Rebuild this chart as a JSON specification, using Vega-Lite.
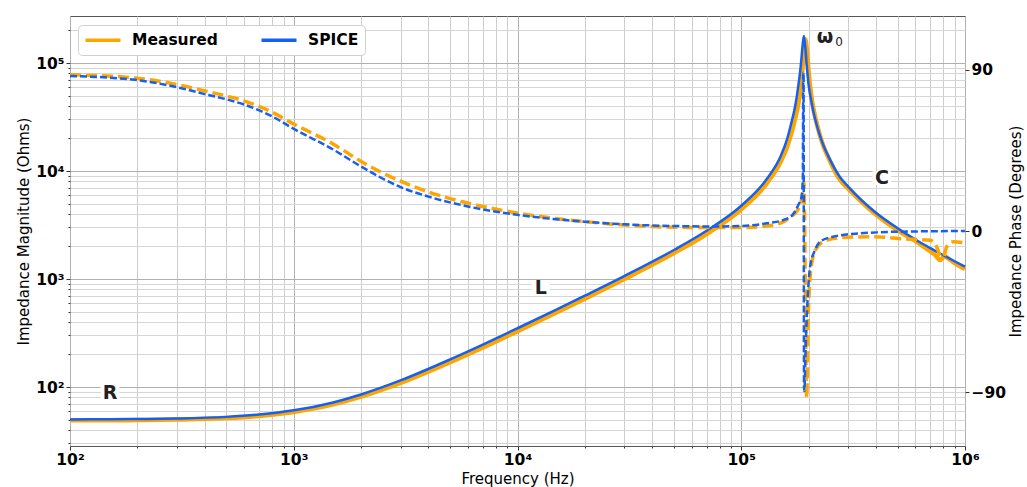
{
  "$schema": "https://vega.github.io/schema/vega-lite/v6.json",
  "width": 895,
  "height": 430,
  "autosize": {"type": "none"},
  "padding": {"left": 70, "top": 16, "right": 62, "bottom": 41},
  "background": "white",
  "config": {
    "font": "DejaVu Sans",
    "view": {"stroke": "#555555", "strokeWidth": 1},
    "axis": {
      "labelFont": "DejaVu Sans",
      "titleFont": "DejaVu Sans",
      "labelFontWeight": "bold",
      "labelFontSize": 14,
      "titleFontWeight": "normal",
      "titleFontSize": 15,
      "labelColor": "black",
      "titleColor": "black",
      "domain": false,
      "labelFlush": false,
      "tickColor": "#333333"
    }
  },
  "datasets": {
    "mag": [
      {"f": 100, "mag": 50.1, "series": "SPICE"},
      {"f": 150, "mag": 50.3, "series": "SPICE"},
      {"f": 200, "mag": 50.5, "series": "SPICE"},
      {"f": 300, "mag": 51.1, "series": "SPICE"},
      {"f": 500, "mag": 52.9, "series": "SPICE"},
      {"f": 700, "mag": 55.6, "series": "SPICE"},
      {"f": 1000, "mag": 60.8, "series": "SPICE"},
      {"f": 1500, "mag": 72.0, "series": "SPICE"},
      {"f": 2000, "mag": 85.3, "series": "SPICE"},
      {"f": 3000, "mag": 115, "series": "SPICE"},
      {"f": 5000, "mag": 180, "series": "SPICE"},
      {"f": 7000, "mag": 247, "series": "SPICE"},
      {"f": 10000, "mag": 350, "series": "SPICE"},
      {"f": 15000, "mag": 524, "series": "SPICE"},
      {"f": 20000, "mag": 701, "series": "SPICE"},
      {"f": 30000, "mag": 1064, "series": "SPICE"},
      {"f": 50000, "mag": 1856, "series": "SPICE"},
      {"f": 70000, "mag": 2797, "series": "SPICE"},
      {"f": 100000, "mag": 4772, "series": "SPICE"},
      {"f": 130000, "mag": 8417, "series": "SPICE"},
      {"f": 150000, "mag": 13700, "series": "SPICE"},
      {"f": 160000, "mag": 19500, "series": "SPICE"},
      {"f": 166000, "mag": 26000, "series": "SPICE"},
      {"f": 175000, "mag": 42000, "series": "SPICE"},
      {"f": 180000, "mag": 62000, "series": "SPICE"},
      {"f": 185000, "mag": 100000, "series": "SPICE"},
      {"f": 188000, "mag": 145000, "series": "SPICE"},
      {"f": 190500, "mag": 178000, "series": "SPICE"},
      {"f": 193000, "mag": 145000, "series": "SPICE"},
      {"f": 196000, "mag": 97000, "series": "SPICE"},
      {"f": 200000, "mag": 63000, "series": "SPICE"},
      {"f": 205000, "mag": 46000, "series": "SPICE"},
      {"f": 210000, "mag": 35500, "series": "SPICE"},
      {"f": 220000, "mag": 24500, "series": "SPICE"},
      {"f": 230000, "mag": 18500, "series": "SPICE"},
      {"f": 250000, "mag": 12600, "series": "SPICE"},
      {"f": 276000, "mag": 8800, "series": "SPICE"},
      {"f": 300000, "mag": 7200, "series": "SPICE"},
      {"f": 400000, "mag": 4100, "series": "SPICE"},
      {"f": 500000, "mag": 2950, "series": "SPICE"},
      {"f": 600000, "mag": 2320, "series": "SPICE"},
      {"f": 700000, "mag": 1933, "series": "SPICE"},
      {"f": 800000, "mag": 1660, "series": "SPICE"},
      {"f": 1000000, "mag": 1300, "series": "SPICE"},
      {"f": 100, "mag": 49.1, "series": "Measured"},
      {"f": 150, "mag": 49.2, "series": "Measured"},
      {"f": 200, "mag": 49.4, "series": "Measured"},
      {"f": 300, "mag": 50.0, "series": "Measured"},
      {"f": 500, "mag": 51.6, "series": "Measured"},
      {"f": 700, "mag": 54.0, "series": "Measured"},
      {"f": 1000, "mag": 58.8, "series": "Measured"},
      {"f": 1500, "mag": 69.0, "series": "Measured"},
      {"f": 2000, "mag": 81.3, "series": "Measured"},
      {"f": 3000, "mag": 108.9, "series": "Measured"},
      {"f": 5000, "mag": 169.3, "series": "Measured"},
      {"f": 7000, "mag": 232, "series": "Measured"},
      {"f": 10000, "mag": 329, "series": "Measured"},
      {"f": 15000, "mag": 492, "series": "Measured"},
      {"f": 20000, "mag": 657, "series": "Measured"},
      {"f": 30000, "mag": 998, "series": "Measured"},
      {"f": 50000, "mag": 1737, "series": "Measured"},
      {"f": 70000, "mag": 2611, "series": "Measured"},
      {"f": 100000, "mag": 4422, "series": "Measured"},
      {"f": 130000, "mag": 7676, "series": "Measured"},
      {"f": 150000, "mag": 12170, "series": "Measured"},
      {"f": 160000, "mag": 16500, "series": "Measured"},
      {"f": 166000, "mag": 21000, "series": "Measured"},
      {"f": 175000, "mag": 32000, "series": "Measured"},
      {"f": 180000, "mag": 42000, "series": "Measured"},
      {"f": 185000, "mag": 64000, "series": "Measured"},
      {"f": 190000, "mag": 118000, "series": "Measured"},
      {"f": 193600, "mag": 165000, "series": "Measured"},
      {"f": 197000, "mag": 122000, "series": "Measured"},
      {"f": 200000, "mag": 83000, "series": "Measured"},
      {"f": 205000, "mag": 52000, "series": "Measured"},
      {"f": 210000, "mag": 38000, "series": "Measured"},
      {"f": 220000, "mag": 25000, "series": "Measured"},
      {"f": 230000, "mag": 18300, "series": "Measured"},
      {"f": 250000, "mag": 12200, "series": "Measured"},
      {"f": 276000, "mag": 8300, "series": "Measured"},
      {"f": 300000, "mag": 6900, "series": "Measured"},
      {"f": 400000, "mag": 3950, "series": "Measured"},
      {"f": 500000, "mag": 2820, "series": "Measured"},
      {"f": 600000, "mag": 2250, "series": "Measured"},
      {"f": 700000, "mag": 1800, "series": "Measured"},
      {"f": 730000, "mag": 1700, "series": "Measured"},
      {"f": 773000, "mag": 1500, "series": "Measured"},
      {"f": 810000, "mag": 1620, "series": "Measured"},
      {"f": 850000, "mag": 1530, "series": "Measured"},
      {"f": 900000, "mag": 1400, "series": "Measured"},
      {"f": 1000000, "mag": 1235, "series": "Measured"}
    ],
    "phase": [
      {"f": 100, "phase": 86.5, "series": "SPICE"},
      {"f": 200, "phase": 84.2, "series": "SPICE"},
      {"f": 300, "phase": 80.3, "series": "SPICE"},
      {"f": 400, "phase": 76.4, "series": "SPICE"},
      {"f": 500, "phase": 73.5, "series": "SPICE"},
      {"f": 600, "phase": 70.6, "series": "SPICE"},
      {"f": 800, "phase": 64.0, "series": "SPICE"},
      {"f": 1000, "phase": 57.0, "series": "SPICE"},
      {"f": 1500, "phase": 45.5, "series": "SPICE"},
      {"f": 2000, "phase": 36.0, "series": "SPICE"},
      {"f": 3000, "phase": 24.5, "series": "SPICE"},
      {"f": 4000, "phase": 19.2, "series": "SPICE"},
      {"f": 6000, "phase": 13.7, "series": "SPICE"},
      {"f": 10000, "phase": 9.0, "series": "SPICE"},
      {"f": 20000, "phase": 5.2, "series": "SPICE"},
      {"f": 30000, "phase": 3.7, "series": "SPICE"},
      {"f": 50000, "phase": 2.8, "series": "SPICE"},
      {"f": 75000, "phase": 2.5, "series": "SPICE"},
      {"f": 100000, "phase": 2.8, "series": "SPICE"},
      {"f": 130000, "phase": 4.3, "series": "SPICE"},
      {"f": 155000, "phase": 6.2, "series": "SPICE"},
      {"f": 168000, "phase": 8.5, "series": "SPICE"},
      {"f": 180000, "phase": 14.6, "series": "SPICE"},
      {"f": 186000, "phase": 19.3, "series": "SPICE"},
      {"f": 188500, "phase": 30.0, "series": "SPICE"},
      {"f": 189300, "phase": 88.5, "series": "SPICE"},
      {"f": 189900, "phase": 88.5, "series": "SPICE"},
      {"f": 190800, "phase": -89.3, "series": "SPICE"},
      {"f": 191500, "phase": -89.3, "series": "SPICE"},
      {"f": 193500, "phase": -70.0, "series": "SPICE"},
      {"f": 196000, "phase": -50.0, "series": "SPICE"},
      {"f": 203000, "phase": -20.0, "series": "SPICE"},
      {"f": 213600, "phase": -10.7, "series": "SPICE"},
      {"f": 225000, "phase": -6.0, "series": "SPICE"},
      {"f": 257000, "phase": -3.2, "series": "SPICE"},
      {"f": 340000, "phase": -1.3, "series": "SPICE"},
      {"f": 417000, "phase": -0.7, "series": "SPICE"},
      {"f": 630000, "phase": -0.2, "series": "SPICE"},
      {"f": 1000000, "phase": 0.0, "series": "SPICE"},
      {"f": 100, "phase": 87.2, "series": "Measured"},
      {"f": 200, "phase": 85.3, "series": "Measured"},
      {"f": 300, "phase": 81.8, "series": "Measured"},
      {"f": 400, "phase": 78.2, "series": "Measured"},
      {"f": 500, "phase": 75.4, "series": "Measured"},
      {"f": 600, "phase": 72.6, "series": "Measured"},
      {"f": 800, "phase": 66.3, "series": "Measured"},
      {"f": 1000, "phase": 59.7, "series": "Measured"},
      {"f": 1500, "phase": 48.6, "series": "Measured"},
      {"f": 2000, "phase": 38.8, "series": "Measured"},
      {"f": 3000, "phase": 27.8, "series": "Measured"},
      {"f": 4000, "phase": 21.8, "series": "Measured"},
      {"f": 6000, "phase": 15.6, "series": "Measured"},
      {"f": 9100, "phase": 10.9, "series": "Measured"},
      {"f": 20000, "phase": 5.2, "series": "Measured"},
      {"f": 30000, "phase": 3.4, "series": "Measured"},
      {"f": 50000, "phase": 2.1, "series": "Measured"},
      {"f": 100000, "phase": 1.9, "series": "Measured"},
      {"f": 130000, "phase": 2.8, "series": "Measured"},
      {"f": 155000, "phase": 5.2, "series": "Measured"},
      {"f": 166000, "phase": 8.0, "series": "Measured"},
      {"f": 177000, "phase": 10.9, "series": "Measured"},
      {"f": 186000, "phase": 17.4, "series": "Measured"},
      {"f": 189500, "phase": 24.0, "series": "Measured"},
      {"f": 190500, "phase": 27.0, "series": "Measured"},
      {"f": 196100, "phase": -93.2, "series": "Measured"},
      {"f": 199400, "phase": -46.0, "series": "Measured"},
      {"f": 206500, "phase": -18.0, "series": "Measured"},
      {"f": 217000, "phase": -9.6, "series": "Measured"},
      {"f": 241000, "phase": -5.1, "series": "Measured"},
      {"f": 296000, "phase": -3.5, "series": "Measured"},
      {"f": 388000, "phase": -3.2, "series": "Measured"},
      {"f": 548000, "phase": -4.5, "series": "Measured"},
      {"f": 698000, "phase": -5.1, "series": "Measured"},
      {"f": 747000, "phase": -8.8, "series": "Measured"},
      {"f": 773000, "phase": -13.5, "series": "Measured"},
      {"f": 800000, "phase": -14.5, "series": "Measured"},
      {"f": 828000, "phase": -8.8, "series": "Measured"},
      {"f": 887000, "phase": -6.0, "series": "Measured"},
      {"f": 1000000, "phase": -6.6, "series": "Measured"}
    ],
    "ann": [
      {"f": 151, "mag": 88, "label": "R"},
      {"f": 12700, "mag": 826, "label": "L"},
      {"f": 425000, "mag": 8610, "label": "C"},
      {"f": 246600, "mag": 170000, "label": "ω₀"}
    ]
  },
  "encoding": {
    "x": {
      "field": "f",
      "type": "quantitative",
      "scale": {"type": "log", "domain": [100, 1000000]},
      "axis": {
        "title": "Frequency (Hz)",
        "titlePadding": 4,
        "values": [100, 200, 300, 400, 500, 600, 700, 800, 900, 1000, 2000, 3000, 4000, 5000, 6000, 7000, 8000, 9000, 10000, 20000, 30000, 40000, 50000, 60000, 70000, 80000, 90000, 100000, 200000, 300000, 400000, 500000, 600000, 700000, 800000, 900000, 1000000],
        "labelExpr": "abs(log(datum.value)/LN10 - round(log(datum.value)/LN10)) < 0.001 ? '10' + ['⁰','¹','²','³','⁴','⁵','⁶'][round(log(datum.value)/LN10)] : ''",
        "labelFontSize": 15.5,
        "labelPadding": 2,
        "grid": true,
        "gridColor": {"condition": {"test": "abs(log(datum.value)/LN10 - round(log(datum.value)/LN10)) < 0.001", "value": "#b0b0b0"}, "value": "#cccccc"},
        "gridWidth": 1,
        "tickSize": {"condition": {"test": "abs(log(datum.value)/LN10 - round(log(datum.value)/LN10)) < 0.001", "value": 4}, "value": 2}
      }
    }
  },
  "layer": [
    {
      "encoding": {
        "y": {
          "field": "mag",
          "type": "quantitative",
          "scale": {"type": "log", "domain": [28.43, 272400]},
          "axis": {
            "title": "Impedance Magnitude (Ohms)",
            "titlePadding": 4,
            "values": [30, 40, 50, 60, 70, 80, 90, 100, 200, 300, 400, 500, 600, 700, 800, 900, 1000, 2000, 3000, 4000, 5000, 6000, 7000, 8000, 9000, 10000, 20000, 30000, 40000, 50000, 60000, 70000, 80000, 90000, 100000, 200000],
            "labelExpr": "abs(log(datum.value)/LN10 - round(log(datum.value)/LN10)) < 0.001 ? '10' + ['⁰','¹','²','³','⁴','⁵','⁶'][round(log(datum.value)/LN10)] : ''",
            "labelFontSize": 15.5,
            "labelPadding": 2,
            "grid": true,
            "gridColor": {"condition": {"test": "abs(log(datum.value)/LN10 - round(log(datum.value)/LN10)) < 0.001", "value": "#b0b0b0"}, "value": "#d6d6d6"},
            "gridWidth": 1,
            "tickSize": {"condition": {"test": "abs(log(datum.value)/LN10 - round(log(datum.value)/LN10)) < 0.001", "value": 4}, "value": 2}
          }
        }
      },
      "layer": [
        {
          "data": {"name": "ann"},
          "mark": {"type": "point", "shape": "M-1.35,-1L1.35,-1L1.35,1L-1.35,1Z", "filled": true, "color": "white", "opacity": 1, "size": 190},
          "encoding": {}
        },
        {
          "data": {"name": "ann"},
          "transform": [{"filter": "datum.label != 'ω₀'"}],
          "mark": {"type": "text", "fontSize": 19, "fontWeight": "bold", "color": "#222222", "font": "DejaVu Sans"},
          "encoding": {"text": {"field": "label"}}
        },
        {
          "data": {"name": "ann"},
          "transform": [{"filter": "datum.label == 'ω₀'"}],
          "mark": {"type": "text", "fontSize": 19, "fontWeight": "bold", "color": "#222222", "font": "DejaVu Sans", "dx": -4, "dy": -1},
          "encoding": {"text": {"value": "ω"}}
        },
        {
          "data": {"name": "ann"},
          "transform": [{"filter": "datum.label == 'ω₀'"}],
          "mark": {"type": "text", "fontSize": 12, "fontWeight": "normal", "color": "#222222", "font": "DejaVu Sans", "dx": 10, "dy": 4},
          "encoding": {"text": {"value": "0"}}
        },
        {
          "data": {"name": "mag"},
          "transform": [{"filter": "datum.series == 'Measured'"}],
          "mark": {"type": "line", "strokeWidth": 4.5, "interpolate": "monotone"},
          "encoding": {
            "color": {
              "field": "series",
              "type": "nominal",
              "scale": {"domain": ["Measured", "SPICE"], "range": ["#FFA500", "#1560F0"]},
              "legend": {
                "title": null,
                "orient": "none",
                "legendX": 8,
                "legendY": 9,
                "direction": "horizontal",
                "symbolType": "M-2.5,0L2.5,0",
                "symbolSize": 196,
                "symbolOffset": 10,
                "symbolStrokeWidth": 3.5,
                "labelFontSize": 15.5,
                "labelFontWeight": "bold",
                "labelFont": "DejaVu Sans",
                "labelColor": "black",
                "labelOffset": 20,
                "columnPadding": 36,
                "padding": 6,
                "fillColor": "white",
                "strokeColor": "#d0d0d0",
                "cornerRadius": 4
              }
            }
          }
        },
        {
          "data": {"name": "mag"},
          "transform": [{"filter": "datum.series == 'SPICE'"}],
          "mark": {"type": "line", "strokeWidth": 2.5, "interpolate": "monotone"},
          "encoding": {"color": {"field": "series", "type": "nominal"}}
        }
      ]
    },
    {
      "encoding": {
        "y": {
          "field": "phase",
          "type": "quantitative",
          "scale": {"domain": [-120, 120], "nice": false, "zero": false},
          "axis": {
            "orient": "right",
            "title": "Impedance Phase (Degrees)",
            "titleAngle": 270,
            "titleBaseline": "top",
            "titlePadding": 3,
            "values": [-90, 0, 90],
            "labelExpr": "datum.value < 0 ? '−' + abs(datum.value) : datum.label",
            "labelFontSize": 15.5,
            "labelPadding": 2,
            "tickSize": 4,
            "grid": false
          }
        }
      },
      "layer": [
        {
          "data": {"name": "phase"},
          "transform": [{"filter": "datum.series == 'Measured'"}],
          "mark": {"type": "line", "strokeWidth": 3.5, "strokeDash": [11, 5], "interpolate": "monotone"},
          "encoding": {"color": {"field": "series", "type": "nominal", "legend": null}}
        },
        {
          "data": {"name": "phase"},
          "transform": [{"filter": "datum.series == 'SPICE'"}],
          "mark": {"type": "line", "strokeWidth": 2.5, "strokeDash": [7, 3], "interpolate": "monotone"},
          "encoding": {"color": {"field": "series", "type": "nominal", "legend": null}}
        }
      ]
    }
  ],
  "resolve": {"scale": {"y": "independent"}}
}
